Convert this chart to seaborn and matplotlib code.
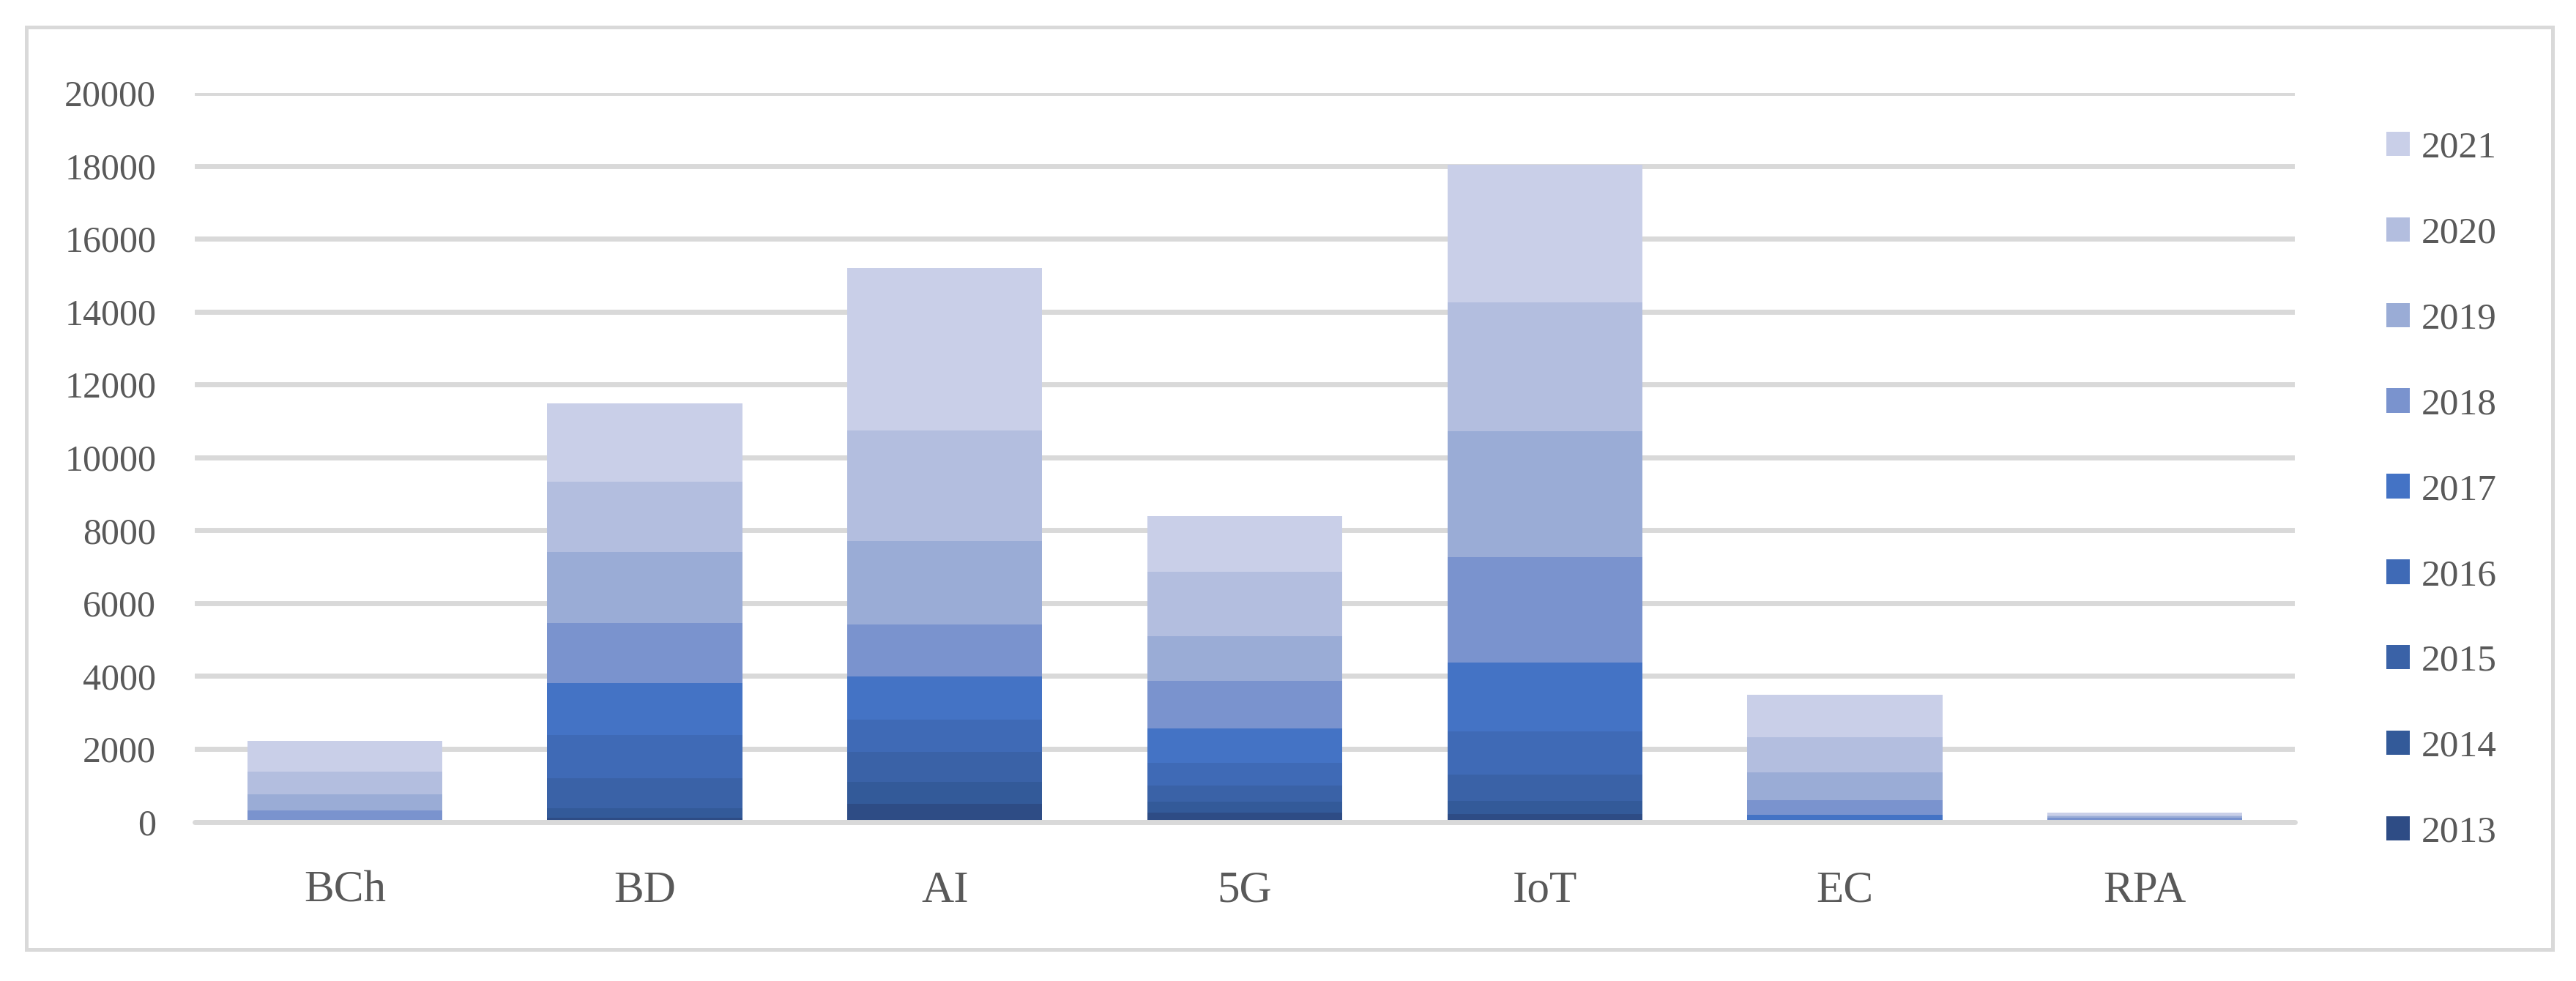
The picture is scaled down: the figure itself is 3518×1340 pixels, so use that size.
import numpy as np
import pandas as pd
import matplotlib
matplotlib.use("Agg")
import matplotlib.pyplot as plt
from matplotlib.patches import Rectangle, Patch
import seaborn as sns

# ---------------- data ----------------
categories = ["BCh", "BD", "AI", "5G", "IoT", "EC", "RPA"]
years = ["2013", "2014", "2015", "2016", "2017", "2018", "2019", "2020", "2021"]

v2013 = [0, 113, 495, 247, 207, 2, 0]
v2014 = [0, 254, 600, 300, 360, 5, 2]
v2015 = [5, 826, 830, 440, 720, 10, 4]
v2016 = [10, 1194, 880, 640, 1200, 20, 6]
v2017 = [20, 1423, 1180, 940, 1878, 150, 8]
v2018 = [280, 1635, 1420, 1298, 2897, 400, 90]
v2019 = [440, 1955, 2300, 1220, 3450, 760, 35]
v2020 = [620, 1922, 3025, 1782, 3537, 980, 26]
v2021 = [850, 2163, 4463, 1528, 3777, 1160, 80]

colors = ["#2E4C85", "#335A99", "#3A62A7", "#3F6AB6", "#4473C5",
          "#7A93CE", "#9AACD6", "#B3BEDF", "#C9CFE8"]

yticks = [0, 2000, 4000, 6000, 8000, 10000, 12000, 14000, 16000, 18000, 20000]

series = [v2013, v2014, v2015, v2016, v2017, v2018, v2019, v2020, v2021]

# ---------------- style ----------------
sns.set_theme(style="white")
plt.rcParams["font.family"] = ["Liberation Serif", "DejaVu Serif"]

W, H = 3518, 1340
fig = plt.figure(figsize=(W / 100, H / 100), dpi=100)
ax = fig.add_axes([266 / W, 1 - 1122.5 / H, (3134 - 266) / W, (1122.5 - 127) / H])

grid_c = "#D9D9D9"
text_c = "#595959"

bottom = np.zeros(len(categories))
handles = []
for yr, vals, col in zip(years, series, colors):
    df = pd.DataFrame({"cat": categories, "val": vals})
    sns.barplot(data=df, x="cat", y="val", order=categories, color=col,
                saturation=1, width=0.65, bottom=bottom, errorbar=None,
                linewidth=0, ax=ax, zorder=2)
    bottom = bottom + np.array(vals, dtype=float)
    handles.append(Patch(facecolor=col, edgecolor="none", label=yr))

ax.set_xlim(-0.5, len(categories) - 0.5)
ax.set_ylim(0, 20000)
ax.set_yticks(yticks)
ax.set_yticklabels([str(t) for t in yticks])
ax.set_xlabel("")
ax.set_ylabel("")

ax.set_axisbelow(True)
ax.yaxis.grid(True, color=grid_c, linewidth=5.0)
ax.xaxis.grid(False)
ax.axhline(0, color=grid_c, linewidth=5.0, zorder=5, clip_on=False)
for s in ax.spines.values():
    s.set_visible(False)

ax.tick_params(axis="y", length=0, pad=38, labelsize=36, labelcolor=text_c)
ax.tick_params(axis="x", length=0, pad=48, labelsize=44, labelcolor=text_c)

# legend (reversed order, 2021 on top)
leg = ax.legend(handles=handles[::-1], loc="upper left",
                bbox_to_anchor=(3259 / W, 1 - 179 / H),
                bbox_transform=fig.transFigure, frameon=False,
                fontsize=37, handlelength=0.62, handleheight=0.62,
                handletextpad=0.3, labelspacing=1.37, borderpad=0,
                borderaxespad=0)
for t in leg.get_texts():
    t.set_color(text_c)

# outer frame
fig.patches.append(Rectangle((36 / W, 1 - 1297 / H), (3486 - 36) / W, (1297 - 37) / H,
                             transform=fig.transFigure, fill=False,
                             edgecolor=grid_c, linewidth=3.6, zorder=0))

fig.savefig("out.png", dpi=100, facecolor="white")
